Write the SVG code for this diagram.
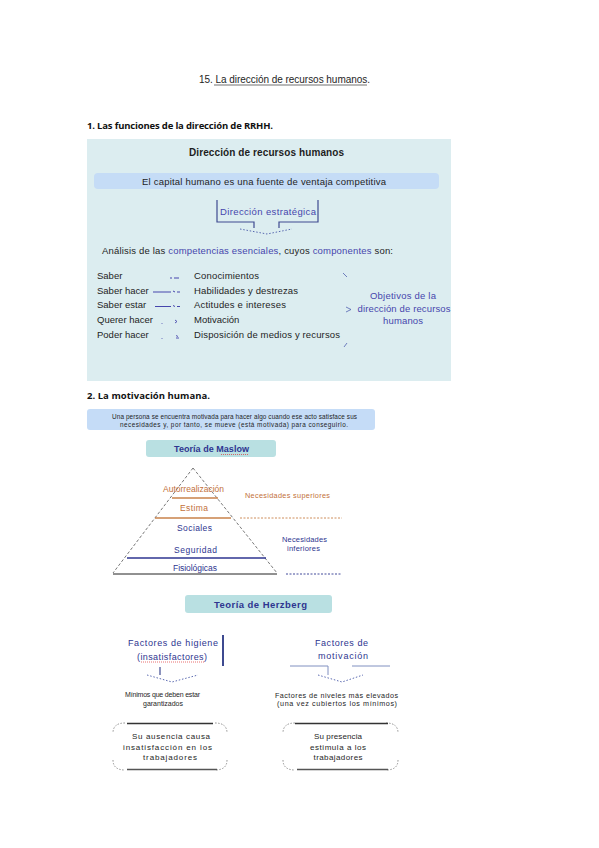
<svg xmlns="http://www.w3.org/2000/svg" width="599" height="848" viewBox="0 0 599 848">
<defs>
<style>
text{font-family:"Liberation Sans",Arial,sans-serif;fill:#1e1e1e}
.h{font-family:"Open Sans","Liberation Sans",sans-serif;font-weight:bold;font-size:9.5px;fill:#111}
.bt{font-weight:bold}
.b{fill:#4646ad}
.n{fill:#2e3590}
.o{fill:#c2703a}
.s95{font-size:9.5px}
.s8{font-size:8px}
.s7{font-size:7.2px}
.ln{fill:none;stroke:#3e4a90;stroke-width:1.2}
.dot{fill:none;stroke:#4a5aa8;stroke-width:0.9;stroke-dasharray:1.5 1.8}
.corner{fill:none;stroke:#777;stroke-width:0.8;stroke-dasharray:1.5 1.5}
.edge{fill:none;stroke:#333;stroke-width:1.3}
</style>
</defs>
<rect width="599" height="848" fill="#ffffff"/>

<g id="title">
<text x="199" y="83" font-size="10" textLength="171">15. La dirección de recursos humanos.</text>
<line x1="214" y1="85" x2="367" y2="85" stroke="#333" stroke-width="0.7"/>
</g>

<g id="heading1"><text class="h" x="87" y="129" textLength="186">1. Las funciones de la dirección de RRHH.</text></g>

<g id="panel1">
<rect x="87" y="139" width="364" height="242" fill="#dcedf0"/>
<text class="bt" x="189" y="156" font-size="10" textLength="155">Dirección de recursos humanos</text>
</g>

<g id="banner">
<rect x="94" y="173" width="345" height="16" rx="4" fill="#c5dcf6"/>
<text class="s95" x="142" y="185" textLength="244">El capital humano es una fuente de ventaja competitiva</text>
</g>

<g id="direccion-estrategica">
<text class="s95 b" x="220" y="215" textLength="96">Dirección estratégica</text>
</g>

<g id="analisis">
<text class="s95" x="102" y="254" textLength="291">Análisis de las <tspan class="b">competencias esenciales</tspan>, cuyos <tspan class="b">componentes</tspan> son:</text>
</g>

<g id="componentes">
<text class="s95" x="97" y="279">Saber</text>
<text class="s95" x="97" y="294">Saber hacer</text>
<text class="s95" x="97" y="308">Saber estar</text>
<text class="s95" x="97" y="323">Querer hacer</text>
<text class="s95" x="97" y="338">Poder hacer</text>
<text class="s95" x="194" y="279" textLength="65">Conocimientos</text>
<text class="s95" x="194" y="294" textLength="104">Habilidades y destrezas</text>
<text class="s95" x="194" y="308" textLength="92">Actitudes e intereses</text>
<text class="s95" x="194" y="323">Motivación</text>
<text class="s95" x="194" y="338" textLength="146">Disposición de medios y recursos</text>
</g>

<g id="objetivos">
<text class="s95 b" x="403" y="299" text-anchor="middle" textLength="66">Objetivos de la</text>
<text class="s95 b" x="404" y="311.5" text-anchor="middle" textLength="93">dirección de recursos</text>
<text class="s95 b" x="403" y="324" text-anchor="middle" textLength="40">humanos</text>
</g>

<g id="heading2"><text class="h" x="87" y="399" textLength="123">2. La motivación humana.</text></g>

<g id="definicion">
<rect x="87" y="409" width="288" height="21" rx="3" fill="#c5dcf7"/>
<text x="112" y="419" font-size="6.4" textLength="245">Una persona se encuentra motivada para hacer algo cuando ese acto satisface sus</text>
<text x="120" y="427" font-size="6.4" textLength="228">necesidades y, por tanto, se mueve (está motivada) para conseguirlo.</text>
</g>

<g id="maslow-title">
<rect x="146" y="440" width="130" height="17" rx="3" fill="#b9e0e2"/>
<text class="bt n" x="174" y="452" font-size="9" textLength="75">Teoría de Maslow</text>
<line x1="221" y1="454.5" x2="249" y2="454.5" stroke="#e03030" stroke-width="0.7" stroke-dasharray="1 1"/>
</g>

<g id="piramide">
<path d="M193,468 L113,573 M193,468 L277,573" fill="none" stroke="#555" stroke-width="0.8" stroke-dasharray="3 2"/>
<line x1="113" y1="574" x2="277" y2="574" stroke="#222" stroke-width="1"/>
<line x1="172" y1="498" x2="218" y2="498" stroke="#c8824a" stroke-width="1.5"/>
<line x1="155" y1="518" x2="231" y2="518" stroke="#c8824a" stroke-width="1.5"/>
<line x1="127" y1="558" x2="266" y2="558" stroke="#2e3590" stroke-width="1.3"/>
<text class="o" x="163" y="492" font-size="8.5" textLength="61">Autorrealización</text>
<text class="o" x="180" y="511" font-size="8.5" textLength="28">Estima</text>
<text class="n" x="177" y="531" font-size="8.5" textLength="35">Sociales</text>
<text class="n" x="174" y="553" font-size="8.5" textLength="43">Seguridad</text>
<text class="n" x="173" y="571" font-size="8.5" textLength="44">Fisiológicas</text>
</g>

<g id="necesidades">
<text class="o" x="245" y="498" font-size="7.3" textLength="85">Necesidades superiores</text>
<line x1="240" y1="518" x2="342" y2="518" stroke="#c8824a" stroke-width="0.9" stroke-dasharray="2 1.5"/>
<text class="n" x="304.5" y="542" font-size="7.5" text-anchor="middle" textLength="45">Necesidades</text>
<text class="n" x="303.5" y="551" font-size="7.5" text-anchor="middle" textLength="33">inferiores</text>
<line x1="286" y1="574" x2="342" y2="574" stroke="#2e3590" stroke-width="0.9" stroke-dasharray="2 1.5"/>
</g>

<g id="herzberg-title">
<rect x="185" y="595" width="147" height="18" rx="3" fill="#b9e0e2"/>
<text class="bt n" x="214" y="608" font-size="9.5" textLength="93">Teoría de Herzberg</text>
</g>

<g id="higiene">
<text class="n" x="128" y="646" font-size="9" textLength="90">Factores de higiene</text>
<text class="n" x="137" y="660" font-size="9" textLength="70">(insatisfactores)</text>
<line x1="141" y1="662" x2="204" y2="662" stroke="#e03030" stroke-width="0.7" stroke-dasharray="1 1"/>
<line x1="223" y1="635" x2="223" y2="666" stroke="#3e4a90" stroke-width="2"/>
</g>

<g id="motivacion">
<text class="n" x="315" y="646" font-size="9" textLength="53">Factores de</text>
<text class="n" x="318" y="659" font-size="9" textLength="50">motivación</text>
</g>

<g id="minimos">
<text x="125" y="697" font-size="7" textLength="75">Mínimos que deben estar</text>
<text x="143" y="706" font-size="7" textLength="40">garantizados</text>
</g>

<g id="niveles">
<text x="275" y="698" font-size="7.2" textLength="123">Factores de niveles más elevados</text>
<text x="277" y="706" font-size="7.2" textLength="120">(una vez cubiertos los mínimos)</text>
</g>

<g id="ausencia">
<path class="corner" d="M125,723 Q113,723 113,733 M113,760 Q113,770 125,770 M215,723 Q227,723 227,733 M227,760 Q227,770 215,770"/>
<path class="edge" d="M127,723.5 H213"/>
<path d="M127,769.5 H217" fill="none" stroke="#555" stroke-width="1.6"/>
<text x="171" y="739" font-size="8" text-anchor="middle" textLength="78">Su ausencia causa</text>
<text x="167.5" y="750" font-size="8" text-anchor="middle" textLength="89">insatisfacción en los</text>
<text x="170" y="760" font-size="8" text-anchor="middle" textLength="54">trabajadores</text>
</g>

<g id="presencia">
<path class="corner" d="M295,723 Q283,723 283,733 M283,760 Q283,770 295,770 M386,723 Q398,723 398,733 M398,760 Q398,770 386,770"/>
<path class="edge" d="M295,723.5 H388"/>
<path d="M297,769.5 H388" fill="none" stroke="#555" stroke-width="1.6"/>
<text x="338" y="739" font-size="8" text-anchor="middle" textLength="48">Su presencia</text>
<text x="338" y="750" font-size="8" text-anchor="middle" textLength="56">estimula a los</text>
<text x="338" y="760" font-size="8" text-anchor="middle" textLength="49">trabajadores</text>
</g>

<g id="connectors">
<path class="ln" d="M217,200 V222 H254 V228 M318,200 V222 H279 V228"/>
<path class="dot" d="M240,229 L267,234 L292,229"/>
<path d="M170,278 h2 M174,278 h5" stroke="#4646ad" stroke-width="1.1" fill="none"/>
<path d="M153,292 H171 M173,291 l2,1 M177,292 l3,0" stroke="#4646ad" stroke-width="1" fill="none"/>
<path d="M155,306.5 H171 M173,305.5 l2,1 M177,306.5 l3,0" stroke="#4646ad" stroke-width="1" fill="none"/>
<path d="M162,323 v0.8 M175,320 l2,1.5 l-2,1.5" stroke="#4646ad" stroke-width="0.9" fill="none"/>
<path d="M162,338 v0.8 M176,335.5 l2,1 M176,338 l3,0" stroke="#4646ad" stroke-width="0.9" fill="none"/>
<path d="M343,273 L347,277 M346,307 L351,309.5 L346,312 M347,343 L344,347" stroke="#5060b0" stroke-width="0.8" fill="none"/>
<path class="ln" d="M160,667 V675"/>
<path class="dot" d="M147,675 L172,682 L198,675"/>
<path d="M290,666 H328 V675 M352,666 H390" fill="none" stroke="#8090c0" stroke-width="1"/>
<path class="dot" d="M318,675 L342,682 L363,675"/>
</g>
</svg>
